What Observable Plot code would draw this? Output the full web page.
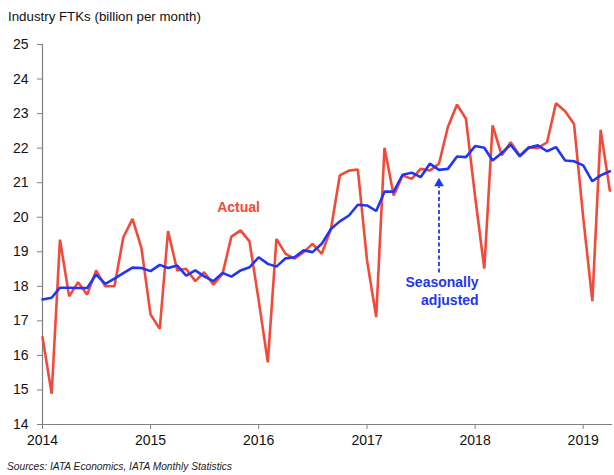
<!DOCTYPE html>
<html><head><meta charset="utf-8">
<script src="https://cdn.jsdelivr.net/npm/d3@7"></script>
<script src="https://cdn.jsdelivr.net/npm/@observablehq/plot@0.6"></script>
<style>
body{margin:0;background:#fff;}
#wrap{position:relative;width:614px;height:475px;font-family:"Liberation Sans",Arial,sans-serif;}
#title{position:absolute;left:8px;top:9px;font-size:13.3px;color:#111;white-space:nowrap;}
#src{position:absolute;left:7px;top:461px;font-size:10.2px;font-style:italic;color:#222;white-space:nowrap;}
#chart svg{position:absolute;left:0;top:0;}
</style></head><body>
<div id="wrap"><div id="chart"></div><div id="title">Industry FTKs (billion per month)</div><div id="src">Sources: IATA Economics, IATA Monthly Statistics</div></div>
<script>
const months = d3.utcMonth.range(new Date(Date.UTC(2014,0,1)), new Date(Date.UTC(2019,4,1)));
const actual = [
  16.53, 14.89, 19.35, 17.71, 18.12, 17.76, 18.46, 18.00, 18.00, 19.42, 19.95, 19.11,
  17.18, 16.77, 19.60, 18.46, 18.51, 18.15, 18.41, 18.05, 18.36, 19.44, 19.62, 19.30,
  17.60, 15.80, 19.37, 18.94, 18.80, 18.99, 19.23, 18.94, 19.66, 21.21, 21.35, 21.38,
  18.75, 17.11, 22.01, 20.63, 21.21, 21.11, 21.40, 21.35, 21.55, 22.61, 23.26, 22.85,
  20.60, 18.51, 22.66, 21.79, 22.17, 21.79, 22.03, 22.00, 22.17, 23.30, 23.07, 22.70,
  20.00, 17.57, 22.53, 20.77
];
const seasonallyAdjusted = [
  17.62, 17.67, 17.96, 17.96, 17.95, 17.95, 18.34, 18.07, 18.22, 18.38, 18.54, 18.53,
  18.44, 18.62, 18.53, 18.60, 18.31, 18.46, 18.29, 18.15, 18.39, 18.28, 18.46, 18.55,
  18.84, 18.65, 18.57, 18.81, 18.84, 19.04, 18.99, 19.23, 19.66, 19.88, 20.05, 20.36,
  20.34, 20.18, 20.74, 20.74, 21.23, 21.29, 21.16, 21.55, 21.37, 21.40, 21.76, 21.74,
  22.06, 22.01, 21.64, 21.86, 22.10, 21.76, 22.01, 22.08, 21.91, 22.03, 21.64, 21.62,
  21.50, 21.04, 21.21, 21.33
];
const yTicks = [14,15,16,17,18,19,20,21,22,23,24,25];
const xTickYears = [2014,2015,2016,2017,2018,2019];
const actualLabel = [{text: "Actual", date: new Date(Date.UTC(2015,9,25)), value: 20.28}];
const saLabel = [{text: "Seasonally\nadjusted", date: new Date(Date.UTC(2018,0,13)), value: 17.88}];
const arrowNote = [{date: new Date(Date.UTC(2017,8,1)), from: 18.40, to: 20.90, tip: 20.98}];

const RED = "#f24a3a", BLUE = "#2236f2", AXIS = "#808080";
const rows = months.map((d, i) => ({date: d, actual: actual[i], sa: seasonallyAdjusted[i]}));
const x0 = new Date(Date.UTC(2014,0,1)), x1 = new Date(Date.UTC(2019,3,10));

const chart = Plot.plot({
  width: 614, height: 475,
  marginLeft: 42, marginRight: 2, marginTop: 44, marginBottom: 51,
  style: {fontFamily: "'Liberation Sans', Arial, sans-serif", fontSize: "14px", color: "#111", background: "white"},
  x: {type: "utc", domain: [x0, x1]},
  y: {domain: [14, 25]},
  marks: [
    Plot.axisX(xTickYears.map(y => new Date(Date.UTC(y,0,1))), {tickFormat: "%Y", tickSize: 5, tickPadding: 6, fontSize: 14, stroke: AXIS, label: null}),
    Plot.axisY(yTicks, {tickSize: 5, tickPadding: 9, fontSize: 14, stroke: AXIS, label: null}),
    Plot.ruleY([14], {stroke: AXIS, strokeWidth: 1.2}),
    Plot.ruleX([x0], {y1: 14, y2: 25, stroke: AXIS, strokeWidth: 1.2}),
    Plot.line(rows, {x: "date", y: "actual", stroke: RED, strokeWidth: 2.6, strokeLinejoin: "miter"}),
    Plot.line(rows, {x: "date", y: "sa", stroke: BLUE, strokeWidth: 2.6, strokeLinejoin: "miter"}),
    Plot.link(arrowNote, {x1: "date", x2: "date", y1: "from", y2: "to", stroke: BLUE, strokeWidth: 1.8, strokeDasharray: "4,2.5"}),
    Plot.dot(arrowNote, {x: "date", y: "tip", symbol: "triangle", r: 3.6, fill: BLUE, stroke: "none"}),
    Plot.text(actualLabel, {x: "date", y: "value", text: "text", fill: RED, textAnchor: "middle", fontWeight: "bold", fontSize: 14}),
    Plot.text(saLabel, {x: "date", y: "value", text: "text", fill: BLUE, textAnchor: "end", fontWeight: "bold", fontSize: 14, lineHeight: 1.3})
  ]
});
document.getElementById("chart").appendChild(chart);
</script>
</body></html>
